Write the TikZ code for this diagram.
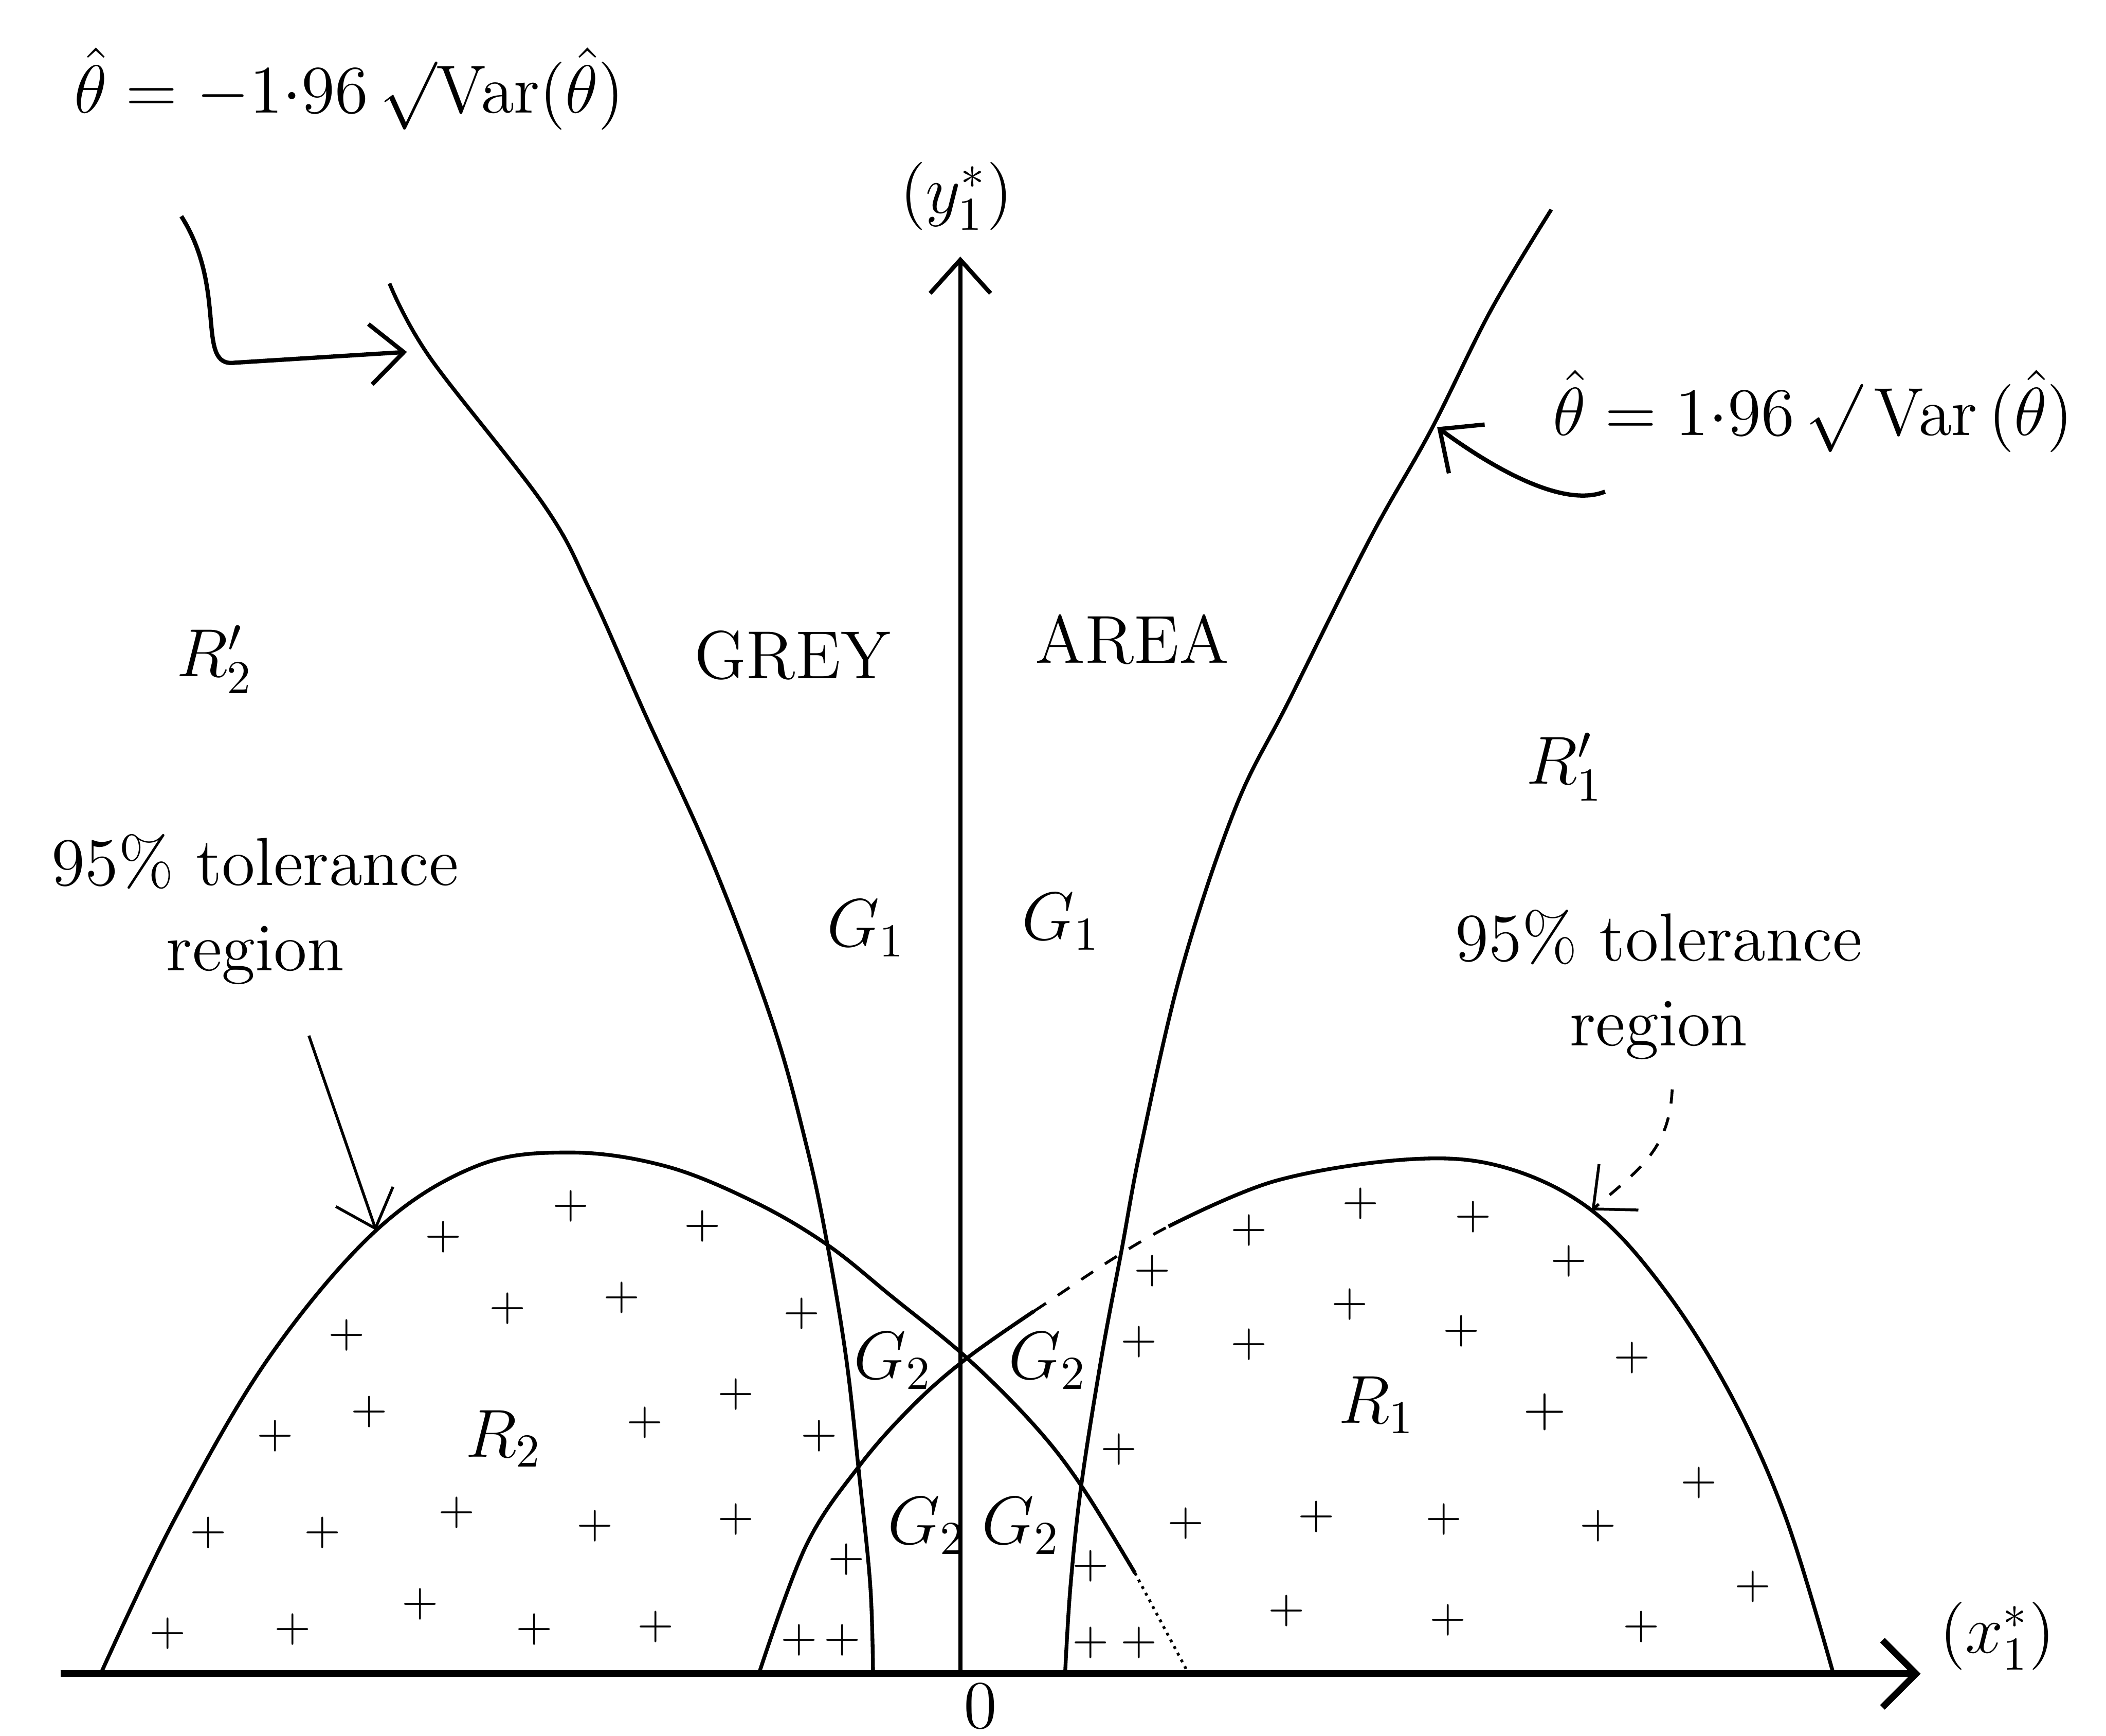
\documentclass[tikz,border=0pt]{standalone}
\usepackage{amsmath,amssymb}
\usepackage{tikz}
\usetikzlibrary{arrows.meta,positioning}

\begin{document}
\begin{tikzpicture}[
    axis/.style={line width=1.4pt},
    bound/.style={line width=0.8pt},
    lbl/.style={font=\Large},
    plussign/.style={inner sep=0pt,font=\normalsize},
    pointer/.style={line width=0.9pt,-{Straight Barb[length=2.5mm,width=4.5mm]}}
  ]
	\useasboundingbox (-7.15,-0.46) rectangle (8.53,12.46);
	
	% axes
	\coordinate (O) at (0,0);
	\coordinate (xl) at (-6.70,0);
	\coordinate (xr) at (7.15,0);
	\coordinate (yt) at (0,10.55);
	\draw[axis,-{Straight Barb[length=2.5mm,width=5mm]}] (xl) -- (xr);
	\draw[line width=0.9pt,-{Straight Barb[length=2.5mm,width=4.5mm]}] (O) -- (yt);
	\node[lbl] (xlab) at (7.72,0.28) {$(x_1^{*})$};
	\node[lbl] (ylab) at (-0.03,11.0) {$(y_1^{*})$};
	\node[lbl] (zero) at (0.15,-0.24) {$0$};
	
	% theta = -1.96 sqrt(Var) and theta = 1.96 sqrt(Var)
	\draw[bound] plot[smooth,tension=0.6] coordinates {(-4.25,10.35) (-3.95,9.80) (-3.10,8.70) (-2.75,8.05) (-2.35,7.15) (-1.85,6.05) (-1.40,4.85) (-1.15,3.95) (-1.00,3.25) (-0.85,2.35) (-0.75,1.45) (-0.67,0.65) (-0.65,0)};
	\draw[bound] plot[smooth,tension=0.6] coordinates {(4.40,10.90) (3.95,10.15) (3.50,9.25) (3.05,8.45) (2.45,7.25) (2.05,6.45) (1.65,5.25) (1.35,3.95) (1.20,3.15) (1.05,2.35) (0.90,1.40) (0.82,0.65) (0.78,0)};
	
	% tolerance regions
	\draw[bound] plot[smooth,tension=0.6] coordinates {(-6.40,0) (-5.85,1.15) (-5.15,2.35) (-4.35,3.30) (-3.60,3.78) (-2.90,3.88) (-2.20,3.78) (-1.55,3.52) (-1.00,3.20) (-0.50,2.80) (0.05,2.35) (0.55,1.85) (0.90,1.40) (1.30,0.75)};
	\draw[line width=0.6pt,densely dotted] (1.30,0.75) -- (1.70,0);
	\draw[bound] plot[smooth,tension=0.6] coordinates {(-1.50,0) (-1.15,0.95) (-0.75,1.55) (-0.35,2.00) (0.05,2.35) (0.55,2.70)};
	\draw[line width=0.6pt,dashed] (0.55,2.70) .. controls (0.90,2.93) and (1.20,3.15) .. (1.55,3.33);
	\draw[bound] plot[smooth,tension=0.6] coordinates {(1.55,3.33) (2.35,3.67) (3.35,3.83) (4.05,3.77) (4.70,3.45) (5.25,2.85) (5.75,2.05) (6.15,1.15) (6.50,0)};
	
	% labels
	\node[lbl] (thL) at (-4.55,11.80) {$\hat{\theta} = -1{\cdot}96\,{\surd}\mathrm{Var}(\hat{\theta})$};
	\node[lbl] (thR) at (6.35,9.40) {$\hat{\theta} = 1{\cdot}96\,{\surd}\,\mathrm{Var}\,(\hat{\theta})$};
	\node[lbl] (Rp2) at (-5.55,7.55) {$R_2'$};
	\node[lbl] (grey) at (-1.25,7.58) {GREY};
	\node[lbl] (area) at (1.28,7.70) {AREA};
	\node[lbl] (Rp1) at (4.50,6.75) {$R_1'$};
	\node[lbl] (G1l) at (-0.70,5.55) {$G_1$};
	\node[lbl] (G1r) at (0.75,5.60) {$G_1$};
	\node[lbl] (G2a) at (-0.50,2.33) {$G_2$};
	\node[lbl] (G2b) at (0.65,2.33) {$G_2$};
	\node[lbl] (G2c) at (-0.25,1.10) {$G_2$};
	\node[lbl] (G2d) at (0.45,1.10) {$G_2$};
	\node[lbl] (R2) at (-3.40,1.75) {$R_2$};
	\node[lbl] (R1) at (3.10,2.00) {$R_1$};
	\node[lbl,align=center] (tolL) at (-5.25,5.69) {95\% tolerance\\region};
	\node[lbl,align=center] (tolR) at (5.20,5.13) {95\% tolerance\\region};
	
	% pointers
	\coordinate (la0) at (-5.80,10.85);
	\coordinate (la1) at (-4.12,9.84);
	\draw[pointer] (la0) .. controls (-5.45,10.30) and (-5.70,9.72) .. (-5.40,9.76) -- (la1);
	\coordinate (ra0) at (4.80,8.80);
	\coordinate (ra1) at (3.55,9.28);
	\draw[pointer] (ra0) .. controls (4.50,8.68) and (4.00,8.95) .. (ra1);
	\coordinate (lt0) at (-4.85,4.75);
	\coordinate (lt1) at (-4.35,3.30);
	\draw[pointer,line width=0.6pt] (lt0) -- (lt1);
	\coordinate (rt0) at (5.30,4.35);
	\coordinate (rt1) at (4.70,3.45);
	\draw[pointer,line width=0.6pt,dashed] (rt0) .. controls (5.28,3.90) and (5.05,3.75) .. (rt1);
	
	% plus signs
	\foreach \p [count=\i] in {(-3.85,3.25),(-2.90,3.48),(-1.92,3.33),(-4.57,2.52),(-3.37,2.72),(-2.52,2.80),(-1.18,2.68),(-4.40,1.95),(-1.67,2.08),(-5.10,1.77),(-2.35,1.87),(-1.05,1.77),(-5.60,1.05),(-4.75,1.05),(-3.75,1.20),(-2.72,1.10),(-1.67,1.15),(-5.90,0.30),(-4.97,0.33),(-4.02,0.52),(-3.17,0.33),(-2.27,0.35),(-0.85,0.85),(-1.20,0.25),(-0.88,0.25)}
		\node[plussign] (pl\i) at \p {$+$};
	\foreach \p [count=\i] in {(2.98,3.50),(2.15,3.30),(3.82,3.40),(1.43,3.00),(4.53,3.07),(2.90,2.75),(1.33,2.47),(2.15,2.45),(3.73,2.55),(5.00,2.35),(1.18,1.67),(5.50,1.42),(1.68,1.12),(2.65,1.17),(3.60,1.15),(4.75,1.10),(5.90,0.65),(2.43,0.47),(3.63,0.40),(5.07,0.35),(0.97,0.80),(0.97,0.23),(1.33,0.23)}
		\node[plussign] (pr\i) at \p {$+$};
	\node[plussign,font=\large] (prbig) at (4.35,1.95) {$+$};
	
\end{tikzpicture}
\end{document}
